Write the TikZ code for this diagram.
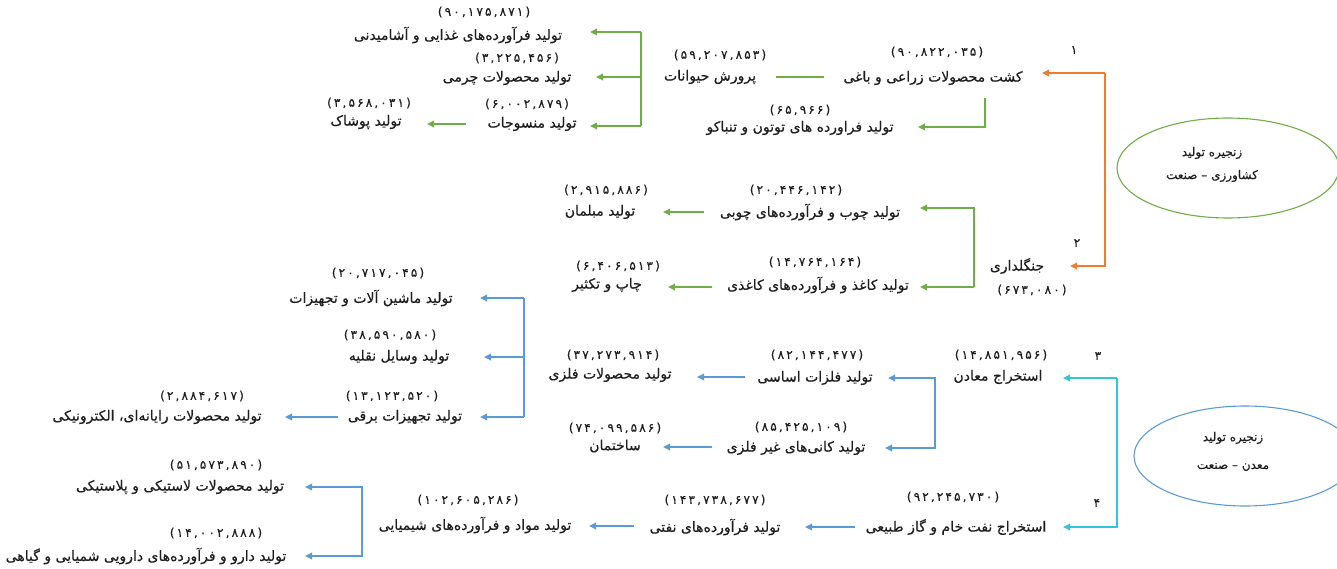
\documentclass[tikz,border=0pt]{standalone}
\usepackage{fontspec}
\usetikzlibrary{arrows.meta,shapes.geometric}
\TeXXeTstate=1
\newfontfamily\arabicfont[Script=Arabic,FakeBold=0.4]{DejaVu Sans}
\newfontfamily\numfont[Script=Arabic,LetterSpace=18,FakeBold=0.4]{DejaVu Sans}
\definecolor{cgreen}{HTML}{70AD47}
\definecolor{cblue}{HTML}{5B9BD5}
\definecolor{corange}{HTML}{ED7D31}
\definecolor{ccyan}{HTML}{33C3DD}
\definecolor{ctext}{HTML}{1E1E1E}
\newcommand{\fa}[1]{\beginR #1\endR}
\begin{document}
\begin{tikzpicture}[x=1pt,y=-1pt,
  lbl/.style={font=\arabicfont\fontsize{14}{16}\selectfont, text=ctext, inner sep=0pt},
  clbl/.style={font=\arabicfont\fontsize{12}{14}\selectfont, text=ctext, inner sep=0pt},
  num/.style={font=\numfont\fontsize{12}{13}\selectfont, text=ctext, inner sep=0pt},
  ln/.style={line width=1.8pt},
  tip/.style={-{Triangle[length=7pt,width=6.5pt]}},
  chain/.style={ellipse, draw, line width=1.1pt, minimum width=222pt, minimum height=100pt}]
\useasboundingbox (0,0) rectangle (1337,569);
\clip (0,0) rectangle (1337,569);

% ---------- agriculture ----------
\node[lbl] (food) at (458,35) {\fa{تولید فرآورده^^^^200cهای غذایی و آشامیدنی}};
\node[num] (foodn) at (484,12) {(۹۰,۱۷۵,۸۷۱)};
\node[lbl] (leather) at (507,78) {\fa{تولید محصولات چرمی}};
\node[num] (leathern) at (517,58) {(۳,۲۲۵,۴۵۶)};
\node[lbl] (textile) at (532,124) {\fa{تولید منسوجات}};
\node[num] (textilen) at (527,104) {(۶,۰۰۲,۸۷۹)};
\node[lbl] (cloth) at (366,122) {\fa{تولید پوشاک}};
\node[num] (clothn) at (369,103) {(۳,۵۶۸,۰۳۱)};
\node[lbl] (animal) at (710,77) {\fa{پرورش حیوانات}};
\node[num] (animaln) at (720,55) {(۵۹,۲۰۷,۸۵۳)};
\node[lbl] (crop) at (933,78) {\fa{کشت محصولات زراعی و باغی}};
\node[num] (cropn) at (937,52) {(۹۰,۸۲۲,۰۳۵)};
\node[lbl] (tobacco) at (800,128) {\fa{تولید فراورده های توتون و تنباکو}};
\node[num] (tobaccon) at (800,110) {(۶۵,۹۶۶)};
\node[num] (one) at (1074,50) {۱};
\node[lbl] (forest) at (1017,266) {\fa{جنگلداری}};
\node[num] (forestn) at (1032,290) {(۶۷۳,۰۸۰)};
\node[num] (two) at (1077,243) {۲};
\node[lbl] (wood) at (810,212) {\fa{تولید چوب و فرآورده^^^^200cهای چوبی}};
\node[num] (woodn) at (796,190) {(۲۰,۴۴۶,۱۴۲)};
\node[lbl] (furniture) at (600,212) {\fa{تولید مبلمان}};
\node[num] (furnituren) at (606,190) {(۲,۹۱۵,۸۸۶)};
\node[lbl] (paper) at (818,285) {\fa{تولید کاغذ و فرآورده^^^^200cهای کاغذی}};
\node[num] (papern) at (815,262) {(۱۴,۷۶۴,۱۶۴)};
\node[lbl] (print) at (607,285) {\fa{چاپ و تکثیر}};
\node[num] (printn) at (618,266) {(۶,۴۰۶,۵۱۳)};

\node[chain, draw=cgreen] (chainA) at (1228,168) {};
\node[clbl] (chainA1) at (1212,153) {\fa{زنجیره تولید}};
\node[clbl] (chainA2) at (1212,176) {\fa{کشاورزی – صنعت}};

% connectors agriculture
\coordinate (o1) at (1105,73);
\coordinate (o2) at (1105,266);
\coordinate (ocrop) at (1042,73);
\coordinate (oforest) at (1070,266);
\draw[ln,corange,tip] (o1) -- (ocrop);
\draw[ln,corange,tip] (o1) -- (o2) -- (oforest);

\coordinate (ca1) at (824,77);
\coordinate (ca2) at (776,77);
\draw[ln,cgreen] (ca1) -- (ca2);

\coordinate (b1t) at (641,32);
\coordinate (b1m) at (641,77);
\coordinate (b1b) at (641,126);
\coordinate (tfood) at (590,32);
\coordinate (tleather) at (596,77);
\coordinate (ttextile) at (590,126);
\draw[ln,cgreen] (b1t) -- (b1b);
\draw[ln,cgreen,tip] (b1t) -- (tfood);
\draw[ln,cgreen,tip] (b1m) -- (tleather);
\draw[ln,cgreen,tip] (b1b) -- (ttextile);

\coordinate (tx1) at (466,124);
\coordinate (tcloth) at (427,124);
\draw[ln,cgreen,tip] (tx1) -- (tcloth);

\coordinate (ct1) at (985,98);
\coordinate (ct2) at (985,127);
\coordinate (ttob) at (918,127);
\draw[ln,cgreen,tip] (ct1) -- (ct2) -- (ttob);

\coordinate (f1) at (974,208);
\coordinate (f2) at (974,287);
\coordinate (twood) at (920,208);
\coordinate (tpaper) at (920,287);
\draw[ln,cgreen,tip] (f2) -- (f1) -- (twood);
\draw[ln,cgreen,tip] (f2) -- (tpaper);

\coordinate (w1) at (704,212);
\coordinate (tfurn) at (663,212);
\draw[ln,cgreen,tip] (w1) -- (tfurn);
\coordinate (p1) at (712,287);
\coordinate (tprint) at (668,287);
\draw[ln,cgreen,tip] (p1) -- (tprint);

% ---------- mining ----------
\node[lbl] (mine) at (998,377) {\fa{استخراج معادن}};
\node[num] (minen) at (1001,355) {(۱۴,۸۵۱,۹۵۶)};
\node[num] (three) at (1098,356) {۳};
\node[lbl] (basemetal) at (815,378) {\fa{تولید فلزات اساسی}};
\node[num] (basemetaln) at (817,355) {(۸۲,۱۴۴,۴۷۷)};
\node[lbl] (metalprod) at (610,375) {\fa{تولید محصولات فلزی}};
\node[num] (metalprodn) at (613,355) {(۳۷,۲۷۳,۹۱۴)};
\node[lbl] (nonmetal) at (796,448) {\fa{تولید کانی^^^^200cهای غیر فلزی}};
\node[num] (nonmetaln) at (801,427) {(۸۵,۴۲۵,۱۰۹)};
\node[lbl] (construct) at (615,446) {\fa{ساختمان}};
\node[num] (constructn) at (615,428) {(۷۴,۰۹۹,۵۸۶)};
\node[lbl] (machine) at (371,298) {\fa{تولید ماشین آلات و تجهیزات}};
\node[num] (machinen) at (378,273) {(۲۰,۷۱۷,۰۴۵)};
\node[lbl] (vehicle) at (399,357) {\fa{تولید وسایل نقلیه}};
\node[num] (vehiclen) at (390,335) {(۳۸,۵۹۰,۵۸۰)};
\node[lbl] (elec) at (405,417) {\fa{تولید تجهیزات برقی}};
\node[num] (elecn) at (392,396) {(۱۳,۱۲۳,۵۲۰)};
\node[lbl] (computer) at (157,417) {\fa{تولید محصولات رایانه^^^^200cای، الکترونیکی}};
\node[num] (computern) at (202,396) {(۲,۸۸۴,۶۱۷)};
\node[lbl] (oil) at (956,527) {\fa{استخراج نفت خام و گاز طبیعی}};
\node[num] (oiln) at (953,497) {(۹۲,۲۴۵,۷۳۰)};
\node[num] (four) at (1097,503) {۴};
\node[lbl] (petro) at (715,527) {\fa{تولید فرآورده^^^^200cهای نفتی}};
\node[num] (petron) at (715,500) {(۱۴۳,۷۳۸,۶۷۷)};
\node[lbl] (chem) at (475,525) {\fa{تولید مواد و فرآورده^^^^200cهای شیمیایی}};
\node[num] (chemn) at (468,500) {(۱۰۲,۶۰۵,۲۸۶)};
\node[lbl] (rubber) at (180,487) {\fa{تولید محصولات لاستیکی و پلاستیکی}};
\node[num] (rubbern) at (216,465) {(۵۱,۵۷۳,۸۹۰)};
\node[lbl] (pharma) at (146,556) {\fa{تولید دارو و فرآورده^^^^200cهای دارویی شمیایی و گیاهی}};
\node[num] (pharman) at (216,533) {(۱۴,۰۰۲,۸۸۸)};

\node[chain, draw=cblue] (chainB) at (1245,456) {};
\node[clbl] (chainB1) at (1233,438) {\fa{زنجیره تولید}};
\node[clbl] (chainB2) at (1233,467) {\fa{معدن – صنعت}};

% connectors mining
\coordinate (c1) at (1117,378);
\coordinate (c2) at (1117,527);
\coordinate (tmine) at (1063,378);
\coordinate (toil) at (1063,527);
\draw[ln,ccyan,tip] (c1) -- (tmine);
\draw[ln,ccyan,tip] (c1) -- (c2) -- (toil);

\coordinate (m1) at (935,378);
\coordinate (m2) at (935,448);
\coordinate (tbase) at (888,378);
\coordinate (tnon) at (885,448);
\draw[ln,cblue,tip] (m2) -- (m1) -- (tbase);
\draw[ln,cblue,tip] (m1) -- (m2) -- (tnon);

\coordinate (bm1) at (745,377);
\coordinate (tmetal) at (697,377);
\draw[ln,cblue,tip] (bm1) -- (tmetal);
\coordinate (nm1) at (712,447);
\coordinate (tcons) at (663,447);
\draw[ln,cblue,tip] (nm1) -- (tcons);

\coordinate (e1) at (524,298);
\coordinate (e2) at (524,357);
\coordinate (e3) at (524,417);
\coordinate (tmach) at (480,298);
\coordinate (tveh) at (484,357);
\coordinate (telec) at (480,417);
\draw[ln,cblue] (e1) -- (e3);
\draw[ln,cblue,tip] (e1) -- (tmach);
\draw[ln,cblue,tip] (e2) -- (tveh);
\draw[ln,cblue,tip] (e3) -- (telec);

\coordinate (el1) at (338,417);
\coordinate (tcomp) at (285,417);
\draw[ln,cblue,tip] (el1) -- (tcomp);

\coordinate (oi1) at (855,527);
\coordinate (tpetro) at (805,527);
\draw[ln,cblue,tip] (oi1) -- (tpetro);
\coordinate (pe1) at (634,526);
\coordinate (tchem) at (589,526);
\draw[ln,cblue,tip] (pe1) -- (tchem);

\coordinate (h1) at (362,487);
\coordinate (h2) at (362,556);
\coordinate (trub) at (305,487);
\coordinate (tpha) at (305,556);
\draw[ln,cblue,tip] (h2) -- (h1) -- (trub);
\draw[ln,cblue,tip] (h1) -- (h2) -- (tpha);
\end{tikzpicture}
\end{document}
